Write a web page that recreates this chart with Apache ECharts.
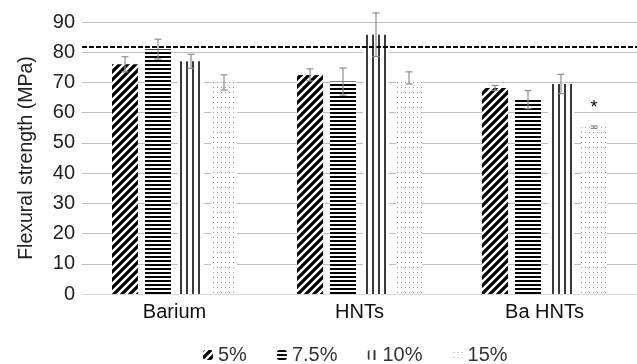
<!DOCTYPE html>
<html><head><meta charset="utf-8">
<script src="https://cdn.jsdelivr.net/npm/echarts@6/dist/echarts.min.js"></script>
<style>html,body{margin:0;padding:0;background:#fff}#c{width:637px;height:364px}</style>
</head><body><div id="c"></div>
<script>
const categories = ['Barium', 'HNTs', 'Ba HNTs'];
const seriesNames = ['5%', '7.5%', '10%', '15%'];
const v5 = [76, 72.5, 68.2];
const v75 = [81, 70.3, 64.3];
const v10 = [77, 85.8, 69.5];
const v15 = [70, 71.5, 55.2];
const e5 = [2.5, 2, 0.8];
const e75 = [3.3, 4.5, 3];
const e10 = [2.3, 7.2, 3.2];
const e15 = [2.5, 2, 0.4];
const controlLine = 81.8;
const yTicks = [0, 10, 20, 30, 40, 50, 60, 70, 80, 90];

function pat(w, h, draw) {
  const c = document.createElement('canvas');
  c.width = w; c.height = h;
  const g = c.getContext('2d');
  g.fillStyle = '#fff'; g.fillRect(0, 0, w, h);
  draw(g);
  return { image: c, repeat: 'repeat' };
}
const pDiag = pat(8, 8, g => {
  g.strokeStyle = '#000'; g.lineWidth = 3.2;
  g.beginPath();
  g.moveTo(-2, 10); g.lineTo(10, -2);
  g.moveTo(-6, 6); g.lineTo(6, -6);
  g.moveTo(2, 14); g.lineTo(14, 2);
  g.stroke();
});
const pHor = pat(4, 4, g => { g.fillStyle = '#000'; g.fillRect(0, 0, 4, 2); });
const pVer = pat(6, 4, g => { g.fillStyle = '#3a3a3a'; g.fillRect(0, 0, 2, 4); });
const pDot = pat(4, 5, g => { g.fillStyle = '#999'; g.fillRect(1, 2, 1, 1); });

const values = [v5, v75, v10, v15];
const errs = [e5, e75, e10, e15];
const pats = [pDiag, pHor, pVer, pDot];
const barW = 26, gapPx = 7;
const offsets = [0, 1, 2, 3].map(i => (i - 1.5) * (barW + gapPx));

const series = [];
values.forEach((vals, si) => {
  series.push({
    name: seriesNames[si], type: 'bar', barWidth: barW, barGap: (gapPx / barW * 100) + '%',
    itemStyle: { color: pats[si] },
    data: vals.map((v, ci) => {
      if (si === 3 && ci === 2) return { value: v, label: { show: true, position: 'top', distance: 10, formatter: '*', fontSize: 18, color: '#000', fontFamily: 'Liberation Sans' } };
      return v;
    }),
    markLine: si === 0 ? {
      silent: true, symbol: 'none', label: { show: false },
      lineStyle: { color: '#000', type: [5, 2], width: 2 },
      data: [{ yAxis: controlLine }]
    } : undefined,
    z: 2
  });
});
values.forEach((vals, si) => {
  series.push({
    type: 'custom', name: 'err' + si, z: 5, silent: true,
    data: vals.map((v, ci) => [ci, v - errs[si][ci], v + errs[si][ci]]),
    renderItem: (params, api) => {
      const lo = api.coord([api.value(0), api.value(1)]);
      const hi = api.coord([api.value(0), api.value(2)]);
      const x = lo[0] + offsets[si];
      const st = { stroke: '#8c8c8c', lineWidth: 1.2 };
      return { type: 'group', children: [
        { type: 'line', shape: { x1: x, y1: lo[1], x2: x, y2: hi[1] }, style: st },
        { type: 'line', shape: { x1: x - 3.5, y1: lo[1], x2: x + 3.5, y2: lo[1] }, style: st },
        { type: 'line', shape: { x1: x - 3.5, y1: hi[1], x2: x + 3.5, y2: hi[1] }, style: st }
      ] };
    }
  });
});

const chart = echarts.init(document.getElementById('c'), null, { renderer: 'canvas' });
chart.setOption({
  animation: false,
  textStyle: { fontFamily: 'Liberation Sans' },
  grid: { left: 82, right: 0, top: 22, bottom: 70, containLabel: false },
  legend: {
    data: seriesNames, top: 340, left: 198, itemWidth: 10, itemHeight: 10, itemGap: 30,
    textStyle: { fontSize: 20, color: '#333' }
  },
  xAxis: {
    type: 'category', data: categories,
    axisLine: { lineStyle: { color: '#d9d9d9' } }, axisTick: { show: false },
    axisLabel: { fontSize: 20, color: '#111', margin: 8 }
  },
  yAxis: {
    type: 'value', min: 0, max: 90, interval: 10,
    name: 'Flexural strength (MPa)', nameLocation: 'middle', nameGap: 45,
    nameTextStyle: { fontSize: 19.5, color: '#222' },
    axisLabel: { fontSize: 20, color: '#222', margin: 7,
      formatter: v => yTicks.includes(v) ? String(v) : '' },
    splitLine: { lineStyle: { color: '#bfbfbf' } },
    axisLine: { show: false }, axisTick: { show: false }
  },
  series
});
</script></body></html>
